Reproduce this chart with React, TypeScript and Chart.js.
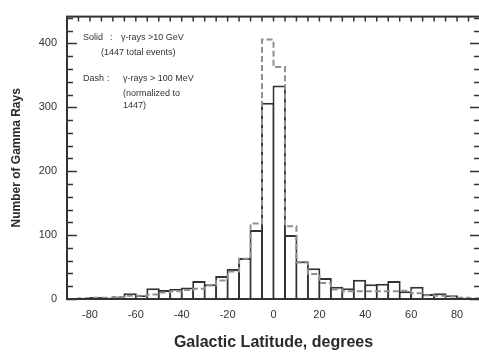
import React, { useEffect, useRef } from 'react';
import { Chart, registerables } from 'chart.js';

Chart.register(...registerables);

// Histogram bins: galactic latitude, 5-degree bins (start of each bin)
const binStarts = [
  -90, -85, -80, -75, -70, -65, -60, -55, -50, -45, -40, -35,
  -30, -25, -20, -15, -10, -5, 0, 5, 10, 15, 20, 25,
  30, 35, 40, 45, 50, 55, 60, 65, 70, 75, 80, 85,
];
const binWidth = 5;

// Solid: gamma-rays > 10 GeV
const solidCounts = [
  0, 1, 3, 2, 4, 9, 6, 17, 14, 16, 18, 28,
  23, 36, 47, 64, 108, 307, 334, 100, 59, 48, 33, 19,
  17, 30, 23, 24, 28, 12, 19, 8, 9, 6, 2, 1,
];

// Dash: gamma-rays > 100 MeV (normalized to 1447)
const dashedCounts = [
  0, 1, 2, 2, 3, 5, 5, 7, 10, 12, 14, 16,
  21, 29, 43, 63, 118, 406, 363, 114, 57, 39, 25, 15,
  12, 12, 12, 12, 12, 13, 9, 6, 5, 4, 2, 1,
];

const xTickValues = [-80, -60, -40, -20, 0, 20, 40, 60, 80];
const yTickValues = [0, 100, 200, 300, 400];

const xTitle = 'Galactic Latitude, degrees';
const yTitle = 'Number of Gamma Rays';

const noteLines = [
  { text: 'Solid', dx: 16, y: 38 },
  { text: ':', dx: 43, y: 38 },
  { text: 'γ-rays >10 GeV', dx: 54, y: 38 },
  { text: '(1447 total events)', dx: 34, y: 53 },
  { text: 'Dash', dx: 16, y: 79 },
  { text: ':', dx: 40, y: 79 },
  { text: 'γ-rays > 100 MeV', dx: 56, y: 79 },
  { text: '(normalized to', dx: 56, y: 94 },
  { text: '1447)', dx: 56, y: 106 },
];

const FONT = '"Liberation Sans", Arial, Helvetica, sans-serif';

export default function App() {
  const canvasRef = useRef<HTMLCanvasElement>(null);

  useEffect(() => {
    document.body.style.margin = '0';
    const canvas = canvasRef.current;
    if (!canvas) return;

    const barData = binStarts.map((s, i) => ({ x: s + binWidth / 2, y: solidCounts[i] }));
    const stepData: { x: number; y: number }[] = [];
    binStarts.forEach((s, i) => {
      stepData.push({ x: s, y: dashedCounts[i] });
      stepData.push({ x: s + binWidth, y: dashedCounts[i] });
    });

    const framePlugin = {
      id: 'frame',
      afterDatasetsDraw(chart: any) {
        const { ctx, chartArea: a, scales } = chart;
        const x = scales.x;
        const y = scales.y;
        ctx.save();
        ctx.strokeStyle = '#333';
        ctx.lineWidth = 2;
        ctx.strokeRect(a.left, a.top, a.right - a.left, a.bottom - a.top);
        ctx.lineWidth = 1.5;
        ctx.beginPath();
        for (let v = 0; v <= y.max; v += 20) {
          const py = Math.round(y.getPixelForValue(v)) + 0.5;
          const len = v % 100 === 0 ? 10 : 6;
          ctx.moveTo(a.left, py);
          ctx.lineTo(a.left + len, py);
          ctx.moveTo(a.right, py);
          ctx.lineTo(a.right - len, py);
        }
        for (let v = x.min + binWidth; v < x.max; v += binWidth) {
          const px = x.getPixelForValue(v);
          ctx.moveTo(px, a.top);
          ctx.lineTo(px, a.top + 5);
        }
        ctx.stroke();
        ctx.restore();
      },
      afterDraw(chart: any) {
        const { ctx, chartArea: a } = chart;
        ctx.save();
        ctx.fillStyle = '#333';
        ctx.font = `9px ${FONT}`;
        ctx.textBaseline = 'middle';
        ctx.textAlign = 'left';
        noteLines.forEach((n) => ctx.fillText(n.text, a.left + n.dx, n.y));
        ctx.restore();
      },
    };

    const chart = new Chart(canvas, {
      type: 'bar',
      data: {
        datasets: [
          {
            type: 'line',
            data: stepData,
            borderColor: '#8f8f8f',
            borderWidth: 2,
            borderDash: [6, 3],
            pointRadius: 0,
            fill: false,
            tension: 0,
            order: 0,
          } as any,
          {
            type: 'bar',
            data: barData,
            backgroundColor: '#ffffff',
            borderColor: '#333333',
            borderWidth: 2,
            barPercentage: 1.17,
            categoryPercentage: 1,
            order: 1,
          } as any,
        ],
      },
      options: {
        animation: false,
        responsive: true,
        maintainAspectRatio: false,
        layout: { padding: { top: 16, right: 2, bottom: 0, left: 0 } },
        plugins: {
          legend: { display: false },
          tooltip: { enabled: false },
        },
        scales: {
          x: {
            type: 'linear',
            min: -90,
            max: 90,
            offset: false,
            grid: { display: false, drawTicks: false },
            border: { display: false },
            afterBuildTicks: (scale: any) => {
              scale.ticks = xTickValues.map((v) => ({ value: v }));
            },
            afterFit: (scale: any) => {
              scale.height = 55;
            },
            ticks: {
              color: '#333',
              font: { family: FONT, size: 11 },
              padding: 9,
              maxRotation: 0,
              autoSkip: false,
            },
            title: {
              display: true,
              text: xTitle,
              color: '#2a2a2a',
              font: { family: FONT, size: 16, weight: 'bold' },
              padding: { top: 0, bottom: 2 },
            },
          },
          y: {
            type: 'linear',
            min: 0,
            max: 442,
            grid: { display: false, drawTicks: false },
            border: { display: false },
            afterBuildTicks: (scale: any) => {
              scale.ticks = yTickValues.map((v) => ({ value: v }));
            },
            afterFit: (scale: any) => {
              scale.width = 67;
            },
            ticks: {
              color: '#333',
              font: { family: FONT, size: 11 },
              padding: 10,
            },
            title: {
              display: true,
              text: yTitle,
              color: '#2a2a2a',
              font: { family: FONT, size: 12, weight: 'bold' },
              padding: { top: 9, bottom: 4 },
            },
          },
        },
      },
      plugins: [framePlugin],
    });

    return () => chart.destroy();
  }, []);

  return (
    <div
      style={{
        position: 'fixed',
        left: 0,
        top: 0,
        width: 479,
        height: 354,
        overflow: 'hidden',
        background: '#fff',
      }}
    >
      <div style={{ width: 482, height: 354 }}>
        <canvas ref={canvasRef} />
      </div>
    </div>
  );
}
